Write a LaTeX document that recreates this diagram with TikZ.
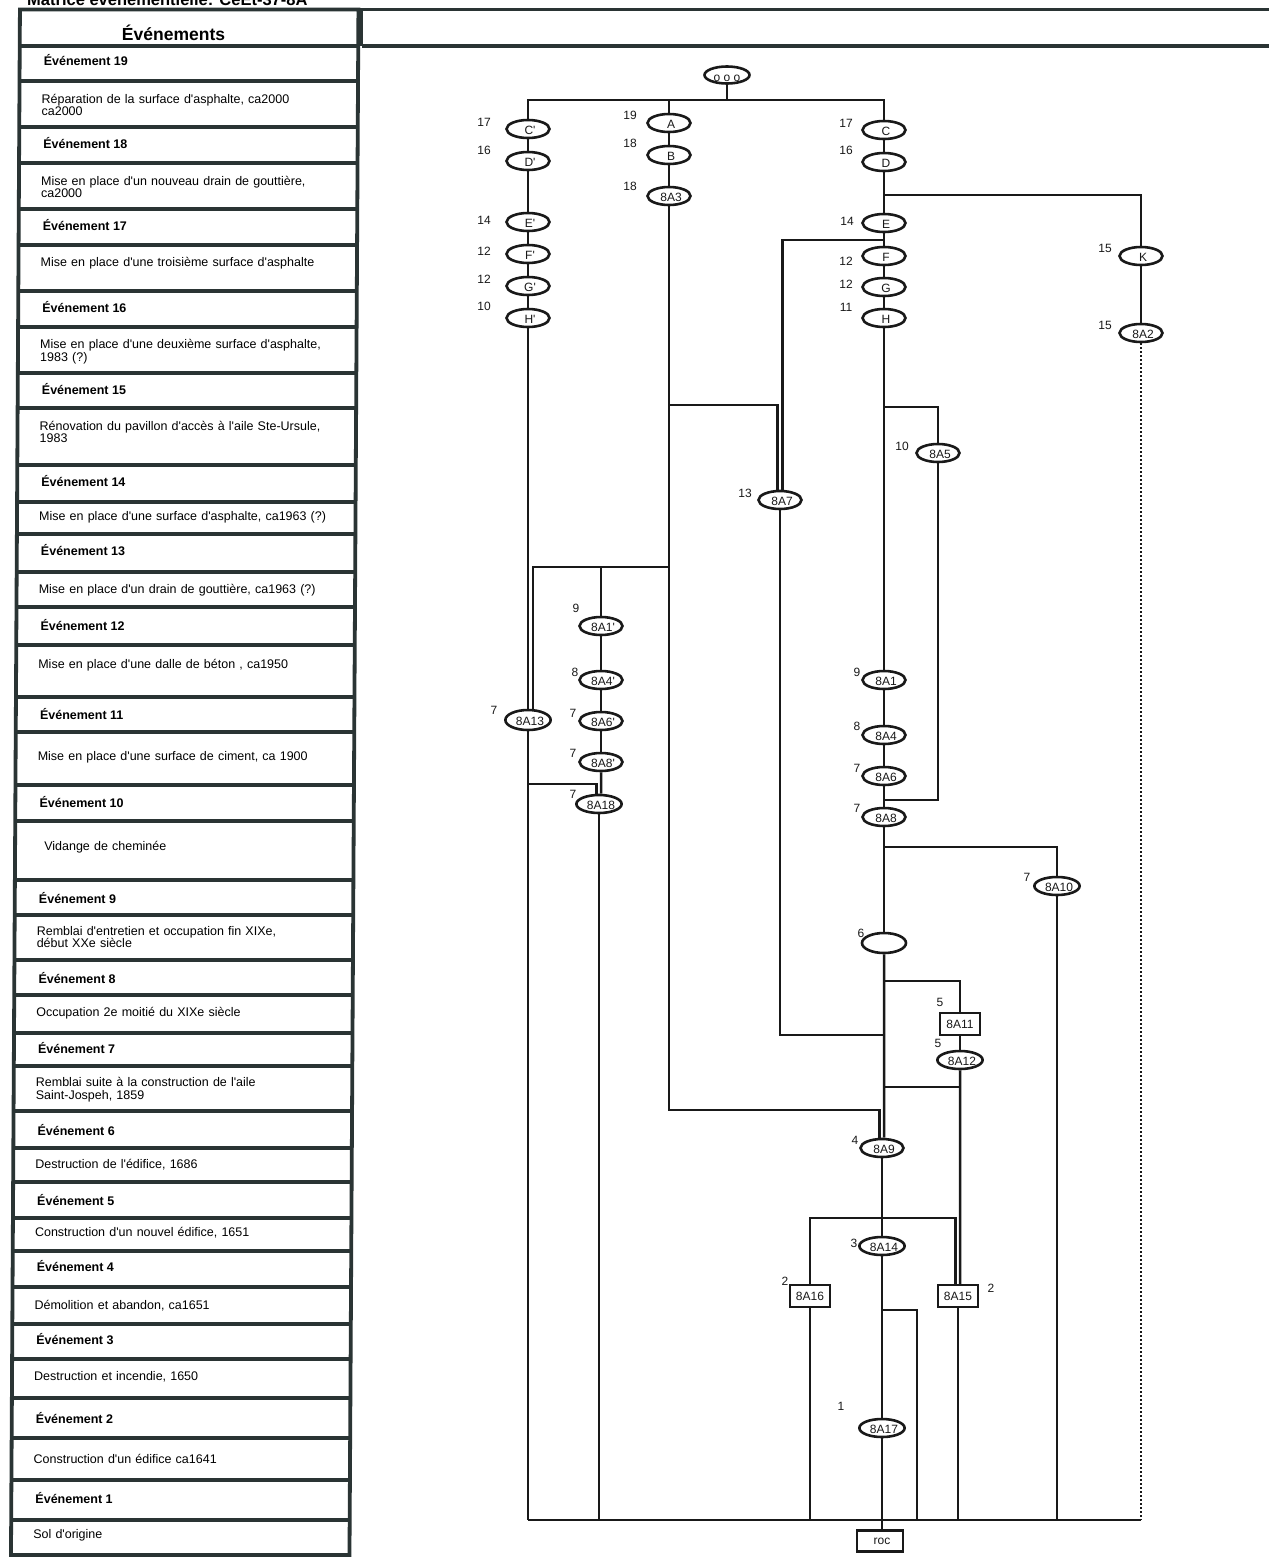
\documentclass[tikz,border=0pt]{standalone}
\usepackage{fontspec}
\setmainfont{Liberation Sans}[Ligatures=TeXOff]
\usetikzlibrary{shapes.geometric}
\definecolor{frame}{RGB}{42,52,52}
\definecolor{ink}{RGB}{25,25,25}
\newcommand{\elltext}[1]{\raisebox{-1.6pt}[8.6pt][0pt]{\hspace{4pt}#1}}
\begin{document}
\begin{tikzpicture}[x=1pt,y=-1pt,
  conn/.style={draw=ink, line width=2.5pt},
  dotconn/.style={draw=ink, line width=2pt, dash pattern=on 2pt off 2pt},
  ell/.style={draw=ink, line width=2.6pt, ellipse, minimum width=43pt, minimum height=18pt, inner sep=0pt, fill=white, font=\fontsize{12}{12}\selectfont, text=ink},
  rbox/.style={draw=ink, line width=2.5pt, rectangle, minimum width=40pt, minimum height=22pt, inner sep=0pt, fill=white, font=\fontsize{12}{12}\selectfont, text=ink},
  num/.style={font=\fontsize{12}{12}\selectfont, text=ink, inner sep=0pt},
  evt/.style={font=\bfseries\fontsize{12.5}{12.5}\selectfont, anchor=base west, inner sep=0pt},
  desc/.style={font=\fontsize{12.5}{12.8}\selectfont, anchor=base west, inner sep=0pt, text width=310pt, align=left},
  tline/.style={draw=frame, line width=3.8pt},
]
\useasboundingbox (0,0) rectangle (1269,1558);
\fill[white] (0,0) rectangle (1269,1558);

% ---------- title (cut at the top, as in the scan) ----------
\node[font=\bfseries\fontsize{16.5}{16.5}\selectfont, anchor=base west, inner sep=0pt] (title) at (27,5.5) {Matrice événementielle: CeEt-37-8A};

% ---------- header strip on the right ----------
\draw[tline] (18,9.5) -- (1269,9.5);
\draw[tline] (361.5,9.5) -- (361.5,46);
\draw[tline] (361.5,46) -- (1269,46);

% ---------- table of events ----------
\begin{scope}[xslant=0.0058]
  \draw[tline] (20,9.5) rectangle (358.5,1555);
  \foreach \yy in {46,81,127,163,209,245,291,327,373,408,465,502,534,572,607,645,697,732,785,821,880,915,960,995,1033,1066,1111,1148,1182,1218,1251,1287,1324,1359,1398,1438,1480,1520}
    \draw[tline] (20,\yy) -- (358.5,\yy);
  \node[font=\bfseries\fontsize{17.5}{17.5}\selectfont, anchor=base west, inner sep=0pt] (hdr) at (122,40.7) {Événements};
  \foreach \n/\yb in {19/65.5,18/148.3,17/230,16/312.3,15/394,14/486.7,13/555,12/630,11/719,10/807,9/903,8/983,7/1053,6/1135,5/1205,4/1271,3/1344,2/1423,1/1503}
    \node[evt] (ev\n) at (44,\yb) {Événement \n};
  \node[desc] (d19) at (42,103) {Réparation de la surface d'asphalte, ca2000\\ca2000};
  \node[desc] (d18) at (42,185) {Mise en place d'un nouveau drain de gouttière,\\ca2000};
  \node[desc] (d17) at (42,266.7) {Mise en place d'une troisième surface d'asphalte};
  \node[desc] (d16) at (42,348.3) {Mise en place d'une deuxième surface d'asphalte,\\1983 (?)};
  \node[desc] (d15) at (42,430) {Rénovation du pavillon d'accès à l'aile Ste-Ursule,\\1983};
  \node[desc] (d14) at (42,520.7) {Mise en place d'une surface d'asphalte, ca1963 (?)};
  \node[desc] (d13) at (42,593) {Mise en place d'un drain de gouttière, ca1963 (?)};
  \node[desc] (d12) at (42,668) {Mise en place d'une dalle de béton , ca1950};
  \node[desc] (d11) at (42,760) {Mise en place d'une surface de ciment, ca 1900};
  \node[desc] (d10) at (49,850.7) {Vidange de cheminée};
  \node[desc] (d9) at (42,935) {Remblai d'entretien et occupation fin XIXe,\\début XXe siècle};
  \node[desc] (d8) at (42,1016.7) {Occupation 2e moitié du XIXe siècle};
  \node[desc] (d7) at (42,1086.7) {Remblai suite à la construction de l'aile\\Saint-Jospeh, 1859};
  \node[desc] (d6) at (42,1168.3) {Destruction de l'édifice, 1686};
  \node[desc] (d5) at (42,1236.7) {Construction d'un nouvel édifice, 1651};
  \node[desc] (d4) at (42,1309) {Démolition et abandon, ca1651};
  \node[desc] (d3) at (42,1380) {Destruction et incendie, 1650};
  \node[desc] (d2) at (42,1463) {Construction d'un édifice ca1641};
  \node[desc] (d1) at (42,1538.3) {Sol d'origine};
\end{scope}

% ---------- matrix nodes ----------
\node[ell, minimum width=45pt, minimum height=17pt] (top) at (727,75) {\raisebox{-2pt}[8.6pt][0pt]{o o o}};

\node[ell] (Cp) at (528,129) {\elltext{C'}};
\node[ell] (Dp) at (528,161) {\elltext{D'}};
\node[ell] (Ep) at (528,222) {\elltext{E'}};
\node[ell] (Fp) at (528,254) {\elltext{F'}};
\node[ell] (Gp) at (528,286) {\elltext{G'}};
\node[ell] (Hp) at (528,318) {\elltext{H'}};

\node[ell] (A) at (669,123) {\elltext{A}};
\node[ell] (B) at (669,155) {\elltext{B}};
\node[ell] (n8A3) at (669,196) {\elltext{8A3}};

\node[ell] (C) at (884,130) {\elltext{C}};
\node[ell] (D) at (884,162) {\elltext{D}};
\node[ell] (E) at (884,223) {\elltext{E}};
\node[ell] (F) at (884,256) {\elltext{F}};
\node[ell] (G) at (884,287) {\elltext{G}};
\node[ell] (H) at (884,318) {\elltext{H}};

\node[ell] (K) at (1141,256) {\elltext{K}};
\node[ell] (n8A2) at (1141,333) {\elltext{8A2}};

\node[ell] (n8A5) at (938,453) {\elltext{8A5}};
\node[ell] (n8A7) at (780,500) {\elltext{8A7}};

\node[ell] (n8A1p) at (601,626) {\elltext{8A1'}};
\node[ell] (n8A4p) at (601,680) {\elltext{8A4'}};
\node[ell] (n8A6p) at (601,721) {\elltext{8A6'}};
\node[ell] (n8A8p) at (601,762) {\elltext{8A8'}};
\node[ell] (n8A18) at (599,804) {\elltext{8A18}};
\node[ell, minimum width=44pt, minimum height=20pt] (n8A13) at (528,720) {\elltext{8A13}};

\node[ell] (n8A1) at (884,680) {\elltext{8A1}};
\node[ell] (n8A4) at (884,735) {\elltext{8A4}};
\node[ell] (n8A6) at (884,776) {\elltext{8A6}};
\node[ell] (n8A8) at (884,817) {\elltext{8A8}};

\node[ell] (n8A10) at (1057,886) {\elltext{8A10}};
\node[ell, minimum width=44pt, minimum height=20pt] (six) at (884,943) {};

\node[rbox] (n8A11) at (960,1024) {8A11};
\node[ell] (n8A12) at (960,1060) {\elltext{8A12}};

\node[ell] (n8A9) at (882,1148) {\elltext{8A9}};
\node[ell] (n8A14) at (882,1246) {\elltext{8A14}};
\node[rbox] (n8A16) at (810,1296) {8A16};
\node[rbox] (n8A15) at (958,1296) {8A15};
\node[ell] (n8A17) at (882,1428) {\elltext{8A17}};
\node[rbox, minimum width=46pt, minimum height=21pt] (roc) at (880,1541) {\hspace{4pt}roc};

% ---------- number labels ----------
\node[num] (lCp) at (484,122) {17};
\node[num] (lDp) at (484,150) {16};
\node[num] (lEp) at (484,220) {14};
\node[num] (lFp) at (484,251) {12};
\node[num] (lGp) at (484,279) {12};
\node[num] (lHp) at (484,306) {10};
\node[num] (lA) at (630,115) {19};
\node[num] (lB) at (630,143) {18};
\node[num] (l8A3) at (630,186) {18};
\node[num] (lC) at (846,123) {17};
\node[num] (lD) at (846,150) {16};
\node[num] (lE) at (847,221) {14};
\node[num] (lF) at (846,261) {12};
\node[num] (lG) at (846,284) {12};
\node[num] (lH) at (846,307) {11};
\node[num] (lK) at (1105,248) {15};
\node[num] (l8A2) at (1105,325) {15};
\node[num] (l8A5) at (902,446) {10};
\node[num] (l8A7) at (745,493) {13};
\node[num] (l8A1p) at (576,608) {9};
\node[num] (l8A4p) at (575,672) {8};
\node[num] (l8A6p) at (573,713) {7};
\node[num] (l8A8p) at (573,753) {7};
\node[num] (l8A18) at (573,794) {7};
\node[num] (l8A13) at (494,710) {7};
\node[num] (l8A1) at (857,672) {9};
\node[num] (l8A4) at (857,726) {8};
\node[num] (l8A6) at (857,768) {7};
\node[num] (l8A8) at (857,808) {7};
\node[num] (l8A10) at (1027,877) {7};
\node[num] (lsix) at (861,933) {6};
\node[num] (l8A11) at (940,1002) {5};
\node[num] (l8A12) at (938,1043) {5};
\node[num] (l8A9) at (855,1140) {4};
\node[num] (l8A14) at (854,1243) {3};
\node[num] (l8A16) at (785,1281) {2};
\node[num] (l8A15) at (991,1288) {2};
\node[num] (l8A17) at (841,1406) {1};

% ---------- junction coordinates ----------
\coordinate (jtop) at (727,100);
\coordinate (jK) at (884,195);
\coordinate (jF) at (884,240);
\coordinate (j5a) at (884,407);
\coordinate (j5b) at (884,800);
\coordinate (j10) at (884,847);
\coordinate (j11) at (884,981);
\coordinate (j7) at (884,1035);
\coordinate (j12) at (884,1087);
\coordinate (j3a) at (669,405);
\coordinate (j3b) at (669,567);
\coordinate (j3c) at (669,1110);
\coordinate (j13) at (528,784);
\coordinate (j14) at (882,1218);
\coordinate (j17) at (882,1310);
\coordinate (bbL) at (528,1520);
\coordinate (bbR) at (1141,1520);
\coordinate (b917) at (917,1520);

% ---------- connectors ----------
\draw[conn] (top.south) -- (jtop);
\draw[conn] (Cp.north) |- (C.north |- jtop) -- (C.north);
\draw[conn] (A.north) -- (A.north |- jtop);

\draw[conn] (Cp.south) -- (Dp.north);
\draw[conn] (Dp.south) -- (Ep.north);
\draw[conn] (Ep.south) -- (Fp.north);
\draw[conn] (Fp.south) -- (Gp.north);
\draw[conn] (Gp.south) -- (Hp.north);
\draw[conn] (Hp.south) -- (Hp.south |- n8A13.north);

\draw[conn] (A.south) -- (B.north);
\draw[conn] (B.south) -- (n8A3.north);
\draw[conn] (n8A3.south) -- (j3c) -| ([xshift=-2.4pt]n8A9.north);
\draw[conn] (j3a) -| ([xshift=-2.4pt]n8A7.north);
\draw[conn] (j3b) -| ([xshift=4.8pt]n8A13.north);
\draw[conn] (n8A1p.north |- j3b) -- (n8A1p.north);

\draw[conn] (C.south) -- (D.north);
\draw[conn] (D.south) -- (E.north);
\draw[conn] (E.south) -- (F.north);
\draw[conn] (F.south) -- (G.north);
\draw[conn] (G.south) -- (H.north);
\draw[conn] (jK) -| (K.north);
\draw[conn] (K.south) -- (n8A2.north);
\draw[dotconn] (n8A2.south) -- (bbR);
\draw[conn] (jF) -| ([xshift=2.4pt]n8A7.north);
\draw[conn] (n8A7.south) |- (j7);

\draw[conn] (H.south) -- (n8A1.north);
\draw[conn] (j5a) -| (n8A5.north);
\draw[conn] (n8A5.south) |- (j5b);
\draw[conn] (n8A1.south) -- (n8A4.north);
\draw[conn] (n8A4.south) -- (n8A6.north);
\draw[conn] (n8A6.south) -- (n8A8.north);
\draw[conn] (n8A8.south) -- (six.north);
\draw[conn] (j10) -| (n8A10.north);
\draw[conn] (n8A10.south) -- (n8A10.south |- bbR);
\draw[conn] (six.south) -- ([xshift=2.2pt]n8A9.north);
\draw[conn] (j11) -| (n8A11.north);
\draw[conn] (n8A11.south) -- (n8A12.north);
\draw[conn] (n8A12.south |- j12) -- (j12);
\draw[conn] (n8A12.south) -- ([xshift=2.2pt]n8A15.north);

\draw[conn] (n8A1p.south) -- (n8A4p.north);
\draw[conn] (n8A4p.south) -- (n8A6p.north);
\draw[conn] (n8A6p.south) -- (n8A8p.north);
\draw[conn] (n8A8p.south) -- ([xshift=2.2pt]n8A18.north);
\draw[conn] (j13) -| ([xshift=-2.4pt]n8A18.north);
\draw[conn] (n8A18.south) -- (n8A18.south |- bbL);
\draw[conn] (n8A13.south) -- (bbL);

\draw[conn] (n8A9.south) -- (n8A14.north);
\draw[conn] (n8A16.north) |- ([xshift=-2.4pt]n8A15.north |- j14) -- ([xshift=-2.4pt]n8A15.north);
\draw[conn] (n8A14.south) -- (n8A17.north);
\draw[conn] (j17) -| (b917);
\draw[conn] (n8A16.south) -- (n8A16.south |- bbL);
\draw[conn] (n8A15.south) -- (n8A15.south |- bbL);
\draw[conn] (n8A17.south) -- (roc.north -| n8A17.south);
\draw[conn] (bbL) -- (bbR);
\end{tikzpicture}
\end{document}
